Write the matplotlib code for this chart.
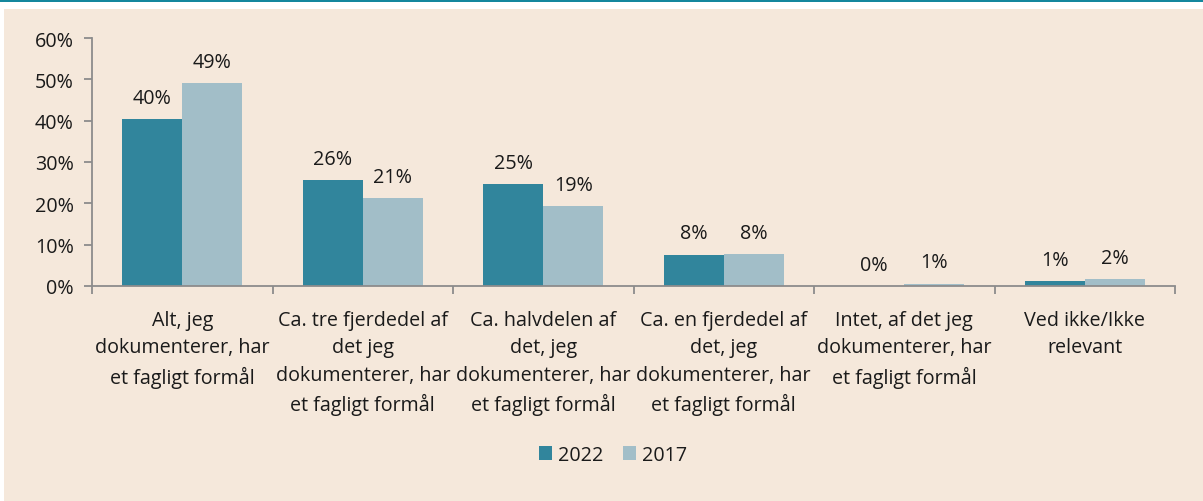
import matplotlib
matplotlib.use("Agg")
import matplotlib.pyplot as plt
from matplotlib.patches import Rectangle
import numpy as np

categories = [
    "Alt, jeg\ndokumenterer, har\net fagligt formål",
    "Ca. tre fjerdedel af\ndet jeg\ndokumenterer, har\net fagligt formål",
    "Ca. halvdelen af\ndet, jeg\ndokumenterer, har\net fagligt formål",
    "Ca. en fjerdedel af\ndet, jeg\ndokumenterer, har\net fagligt formål",
    "Intet, af det jeg\ndokumenterer, har\net fagligt formål",
    "Ved ikke/Ikke\nrelevant",
]
series_names = ["2022", "2017"]
values_2022 = [40.3, 25.6, 24.7, 7.6, 0.0, 1.2]
values_2017 = [49.0, 21.3, 19.3, 7.8, 0.6, 1.6]
yticks = [0, 10, 20, 30, 40, 50, 60]

plt.rcParams['font.family'] = ['Open Sans', 'DejaVu Sans']
FS = 14.2
TXT = '#1a1a1a'
AX = '#8c8c8c'
C22 = '#31859c'
C17 = '#a2bec8'
BG = '#f5e8db'

fig = plt.figure(figsize=(12.03, 5.02), dpi=100)
fig.patch.set_facecolor('white')
fig.add_artist(Rectangle((4/1203, 0), 1, 1 - 10/502, transform=fig.transFigure,
                         facecolor=BG, edgecolor='none', zorder=0))
fig.add_artist(Rectangle((0, 1 - 2.5/502), 1, 2.5/502, transform=fig.transFigure,
                         facecolor='#14879d', edgecolor='none', zorder=0))

ax = fig.add_axes([92/1203, 1 - 287/502, (1175 - 92)/1203, (287 - 39)/502])
ax.set_facecolor('none')

x = np.arange(len(categories))
w = 1/3
b1 = ax.bar(x - w/2, values_2022, w, color=C22, label=series_names[0], zorder=2)
b2 = ax.bar(x + w/2, values_2017, w, color=C17, label=series_names[1], zorder=2)

for bars, vals in ((b1, values_2022), (b2, values_2017)):
    for rect, v in zip(bars, vals):
        ax.annotate(f"{v:.0f}%", (rect.get_x() + rect.get_width()/2, v),
                    xytext=(0, 8), textcoords='offset points',
                    ha='center', va='bottom', fontsize=FS, color=TXT)

ax.set_xlim(-0.5, len(categories) - 0.5)
ax.set_ylim(0, 60)
ax.set_yticks(yticks)
ax.set_yticklabels([f"{t}%" for t in yticks])

ax.set_xticks(x)
ax.set_xticklabels(categories, fontsize=FS, color=TXT, linespacing=1.5)
ax.tick_params(axis='x', which='major', length=0, pad=17)
ax.set_xticks(np.arange(len(categories) + 1) - 0.5, minor=True)
ax.tick_params(axis='x', which='minor', length=6, width=1.3, color=AX, direction='out')
ax.tick_params(axis='y', length=6, width=1.3, color=AX, labelsize=FS, labelcolor=TXT, pad=7)

for s in ['top', 'right']:
    ax.spines[s].set_visible(False)
for s in ['left', 'bottom']:
    ax.spines[s].set_color(AX)
    ax.spines[s].set_linewidth(1.3)

fig.legend(handles=[b1, b2], labels=series_names, loc='center',
           bbox_to_anchor=(613/1203, 1 - 456/502), ncol=2, frameon=False,
           fontsize=FS, handlelength=0.65, handleheight=0.65, handletextpad=0.3,
           columnspacing=1.0, labelcolor=TXT)

fig.savefig('out.png', dpi=100)
